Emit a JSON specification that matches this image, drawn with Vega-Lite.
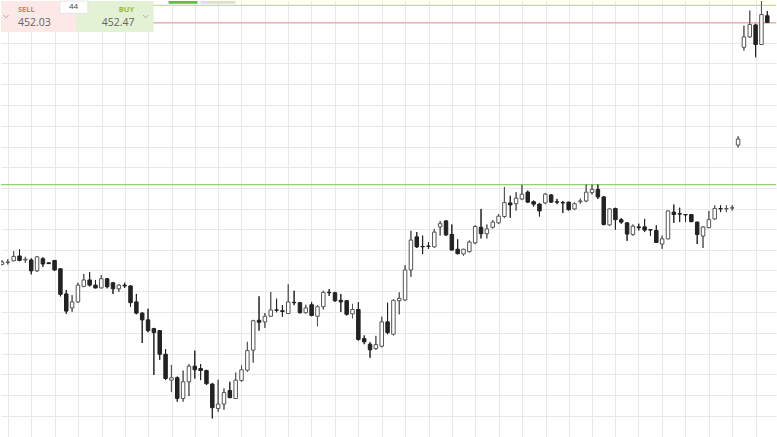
{
  "$schema": "https://vega.github.io/schema/vega-lite/v6.json",
  "width": 777,
  "height": 437,
  "autosize": {"type": "fit", "contains": "padding"},
  "padding": 0,
  "background": "#ffffff",
  "config": {
    "view": {"stroke": null},
    "axis": {"gridColor": "#e8e8e8", "gridWidth": 1, "labels": false, "ticks": false, "domain": false, "minExtent": 0, "maxExtent": 0}
  },
  "datasets": {
    "candles": [
      {"t":0,"o":445.98,"h":446.08,"l":445.96,"c":446.04},
      {"t":1,"o":446.03,"h":446.11,"l":445.98,"c":446.04},
      {"t":2,"o":446.07,"h":446.31,"l":446.06,"c":446.18},
      {"t":3,"o":446.19,"h":446.36,"l":446.06,"c":446.08},
      {"t":4,"o":446.09,"h":446.17,"l":446.02,"c":446.11},
      {"t":5,"o":446.09,"h":446.13,"l":445.73,"c":445.82},
      {"t":6,"o":445.82,"h":446.19,"l":445.79,"c":446.17},
      {"t":7,"o":446.12,"h":446.16,"l":445.92,"c":445.99},
      {"t":8,"o":446.02,"h":446.03,"l":445.99,"c":446.00},
      {"t":9,"o":446.08,"h":446.09,"l":445.82,"c":445.84},
      {"t":10,"o":445.87,"h":445.88,"l":445.18,"c":445.23},
      {"t":11,"o":445.24,"h":445.34,"l":444.74,"c":444.81},
      {"t":12,"o":444.89,"h":445.21,"l":444.79,"c":445.04},
      {"t":13,"o":445.04,"h":445.52,"l":445.02,"c":445.46},
      {"t":14,"o":445.43,"h":445.74,"l":445.41,"c":445.59},
      {"t":15,"o":445.59,"h":445.79,"l":445.43,"c":445.46},
      {"t":16,"o":445.46,"h":445.59,"l":445.38,"c":445.39},
      {"t":17,"o":445.39,"h":445.71,"l":445.38,"c":445.62},
      {"t":18,"o":445.62,"h":445.64,"l":445.38,"c":445.42},
      {"t":19,"o":445.52,"h":445.54,"l":445.24,"c":445.37},
      {"t":20,"o":445.37,"h":445.48,"l":445.29,"c":445.46},
      {"t":21,"o":445.46,"h":445.52,"l":445.39,"c":445.44},
      {"t":22,"o":445.44,"h":445.46,"l":444.92,"c":445.02},
      {"t":23,"o":445.04,"h":445.24,"l":444.73,"c":444.76},
      {"t":24,"o":444.76,"h":444.78,"l":444.01,"c":444.59},
      {"t":25,"o":444.59,"h":444.87,"l":444.28,"c":444.32},
      {"t":26,"o":444.37,"h":444.39,"l":443.21,"c":444.27},
      {"t":27,"o":444.32,"h":444.33,"l":443.59,"c":443.73},
      {"t":28,"o":443.73,"h":443.86,"l":443.08,"c":443.12},
      {"t":29,"o":443.08,"h":443.46,"l":442.78,"c":443.14},
      {"t":30,"o":443.14,"h":443.17,"l":442.54,"c":442.62},
      {"t":31,"o":442.62,"h":443.32,"l":442.54,"c":443.04},
      {"t":32,"o":443.04,"h":443.48,"l":442.68,"c":443.43},
      {"t":33,"o":443.43,"h":443.82,"l":443.12,"c":443.34},
      {"t":34,"o":443.37,"h":443.48,"l":443.08,"c":443.32},
      {"t":35,"o":443.32,"h":443.34,"l":442.96,"c":442.99},
      {"t":36,"o":442.98,"h":443.01,"l":442.12,"c":442.39},
      {"t":37,"o":442.37,"h":443.09,"l":442.29,"c":442.48},
      {"t":38,"o":442.48,"h":442.87,"l":442.34,"c":442.77},
      {"t":39,"o":442.82,"h":443.04,"l":442.63,"c":442.64},
      {"t":40,"o":442.62,"h":443.27,"l":442.61,"c":443.08},
      {"t":41,"o":443.07,"h":443.46,"l":443.04,"c":443.34},
      {"t":42,"o":443.33,"h":444.04,"l":443.29,"c":443.82},
      {"t":43,"o":443.83,"h":444.59,"l":443.52,"c":444.57},
      {"t":44,"o":444.58,"h":445.18,"l":444.32,"c":444.53},
      {"t":45,"o":444.54,"h":444.76,"l":444.39,"c":444.68},
      {"t":46,"o":444.68,"h":445.29,"l":444.67,"c":444.84},
      {"t":47,"o":444.84,"h":445.12,"l":444.78,"c":444.83},
      {"t":48,"o":444.82,"h":444.96,"l":444.67,"c":444.80},
      {"t":49,"o":444.75,"h":445.48,"l":444.74,"c":445.04},
      {"t":50,"o":445.03,"h":445.32,"l":444.96,"c":445.02},
      {"t":51,"o":445.02,"h":445.04,"l":444.75,"c":444.77},
      {"t":52,"o":444.77,"h":444.97,"l":444.75,"c":444.89},
      {"t":53,"o":444.97,"h":445.04,"l":444.68,"c":444.70},
      {"t":54,"o":444.68,"h":444.96,"l":444.43,"c":444.92},
      {"t":55,"o":444.92,"h":445.32,"l":444.85,"c":445.28},
      {"t":56,"o":445.28,"h":445.36,"l":445.19,"c":445.27},
      {"t":57,"o":445.27,"h":445.29,"l":445.04,"c":445.07},
      {"t":58,"o":445.08,"h":445.24,"l":444.79,"c":445.04},
      {"t":59,"o":445.07,"h":445.08,"l":444.70,"c":444.73},
      {"t":60,"o":444.74,"h":444.99,"l":444.63,"c":444.85},
      {"t":61,"o":444.85,"h":445.03,"l":444.07,"c":444.10},
      {"t":62,"o":444.12,"h":444.20,"l":443.98,"c":444.04},
      {"t":63,"o":443.98,"h":444.03,"l":443.64,"c":443.84},
      {"t":64,"o":443.87,"h":444.19,"l":443.84,"c":443.97},
      {"t":65,"o":443.93,"h":444.67,"l":443.90,"c":444.54},
      {"t":66,"o":444.54,"h":445.02,"l":444.23,"c":444.27},
      {"t":67,"o":444.23,"h":445.10,"l":444.20,"c":445.08},
      {"t":68,"o":445.07,"h":445.28,"l":444.73,"c":445.13},
      {"t":69,"o":445.09,"h":445.96,"l":445.07,"c":445.84},
      {"t":70,"o":445.84,"h":446.82,"l":445.67,"c":446.59},
      {"t":71,"o":446.67,"h":446.79,"l":446.39,"c":446.42},
      {"t":72,"o":446.43,"h":446.70,"l":446.24,"c":446.42},
      {"t":73,"o":446.44,"h":446.54,"l":446.37,"c":446.43},
      {"t":74,"o":446.42,"h":446.87,"l":446.40,"c":446.79},
      {"t":75,"o":446.92,"h":447.07,"l":446.70,"c":447.00},
      {"t":76,"o":447.07,"h":447.08,"l":446.69,"c":446.72},
      {"t":77,"o":446.73,"h":446.98,"l":446.33,"c":446.34},
      {"t":78,"o":446.36,"h":446.61,"l":446.23,"c":446.25},
      {"t":79,"o":446.24,"h":446.37,"l":446.20,"c":446.36},
      {"t":80,"o":446.30,"h":446.58,"l":446.28,"c":446.54},
      {"t":81,"o":446.52,"h":446.96,"l":446.49,"c":446.93},
      {"t":82,"o":446.91,"h":447.37,"l":446.63,"c":446.75},
      {"t":83,"o":446.75,"h":446.98,"l":446.63,"c":446.87},
      {"t":84,"o":446.91,"h":447.09,"l":446.88,"c":447.04},
      {"t":85,"o":447.02,"h":447.24,"l":446.99,"c":447.19},
      {"t":86,"o":447.18,"h":447.92,"l":447.14,"c":447.53},
      {"t":87,"o":447.52,"h":447.70,"l":447.15,"c":447.47},
      {"t":88,"o":447.50,"h":447.79,"l":447.33,"c":447.64},
      {"t":89,"o":447.62,"h":447.98,"l":447.59,"c":447.74},
      {"t":90,"o":447.79,"h":447.83,"l":447.52,"c":447.54},
      {"t":91,"o":447.55,"h":447.58,"l":447.43,"c":447.49},
      {"t":92,"o":447.49,"h":447.52,"l":447.18,"c":447.32},
      {"t":93,"o":447.52,"h":447.77,"l":447.49,"c":447.74},
      {"t":94,"o":447.72,"h":447.74,"l":447.52,"c":447.54},
      {"t":95,"o":447.55,"h":447.62,"l":447.49,"c":447.54},
      {"t":96,"o":447.53,"h":447.57,"l":447.27,"c":447.52},
      {"t":97,"o":447.54,"h":447.55,"l":447.33,"c":447.35},
      {"t":98,"o":447.37,"h":447.54,"l":447.34,"c":447.50},
      {"t":99,"o":447.55,"h":447.63,"l":447.50,"c":447.57},
      {"t":100,"o":447.57,"h":447.99,"l":447.54,"c":447.79},
      {"t":101,"o":447.78,"h":447.99,"l":447.73,"c":447.86},
      {"t":102,"o":447.86,"h":447.99,"l":447.62,"c":447.67},
      {"t":103,"o":447.67,"h":447.69,"l":446.96,"c":446.98},
      {"t":104,"o":446.97,"h":447.39,"l":446.94,"c":447.37},
      {"t":105,"o":447.38,"h":447.40,"l":446.85,"c":447.10},
      {"t":106,"o":447.10,"h":447.14,"l":447.00,"c":447.04},
      {"t":107,"o":447.02,"h":447.04,"l":446.57,"c":446.74},
      {"t":108,"o":446.73,"h":446.98,"l":446.70,"c":446.94},
      {"t":109,"o":446.92,"h":447.00,"l":446.83,"c":446.90},
      {"t":110,"o":446.92,"h":447.12,"l":446.79,"c":446.84},
      {"t":111,"o":446.85,"h":446.86,"l":446.70,"c":446.84},
      {"t":112,"o":446.83,"h":446.96,"l":446.52,"c":446.53},
      {"t":113,"o":446.49,"h":446.70,"l":446.37,"c":446.62},
      {"t":114,"o":446.62,"h":447.33,"l":446.61,"c":447.32},
      {"t":115,"o":447.29,"h":447.48,"l":447.02,"c":447.23},
      {"t":116,"o":447.25,"h":447.40,"l":447.04,"c":447.24},
      {"t":117,"o":447.23,"h":447.24,"l":447.04,"c":447.22},
      {"t":118,"o":447.23,"h":447.24,"l":447.04,"c":447.05},
      {"t":119,"o":447.04,"h":447.05,"l":446.49,"c":446.73},
      {"t":120,"o":446.69,"h":446.94,"l":446.39,"c":446.92},
      {"t":121,"o":446.90,"h":447.32,"l":446.89,"c":447.10},
      {"t":122,"o":447.12,"h":447.46,"l":447.10,"c":447.38},
      {"t":123,"o":447.38,"h":447.46,"l":447.29,"c":447.37},
      {"t":124,"o":447.37,"h":447.46,"l":447.29,"c":447.38},
      {"t":125,"o":447.39,"h":447.46,"l":447.33,"c":447.40},
      {"t":126,"o":448.97,"h":449.19,"l":448.91,"c":449.12},
      {"t":127,"o":451.42,"h":451.96,"l":451.34,"c":451.68},
      {"t":128,"o":451.68,"h":452.34,"l":451.66,"c":451.99},
      {"t":129,"o":451.98,"h":452.01,"l":451.17,"c":451.49},
      {"t":130,"o":451.49,"h":452.63,"l":451.48,"c":452.24},
      {"t":131,"o":452.21,"h":452.33,"l":452.03,"c":452.04}
    ],
    "levels": [
      {"name": "resistance", "price": 447.98},
      {"name": "ask", "price": 452.47},
      {"name": "bid", "price": 452.03}
    ],
    "quote": [
      {"side": "SELL", "price": 452.03},
      {"side": "BUY", "price": 452.47}
    ]
  },
  "layer": [
    {
      "data": {"name": "candles"},
      "mark": {"type": "rule", "strokeWidth": 1, "clip": true},
      "encoding": {
        "x": {"field": "t", "type": "quantitative",
          "scale": {"domain": [-0.1707, 132.49], "nice": false, "zero": false, "padding": 0},
          "axis": {"title": null, "grid": true, "labels": false, "ticks": false, "domain": false, "tickCount": 200, "values": [1.024,4.951,9.049,12.976,17.073,21.0,24.927,29.025,32.952,37.049,40.976,45.074,49.0,52.927,57.025,60.952,65.049,68.976,73.074,77.001,80.928,85.025,88.952,93.05,96.976,101.074,105.001,108.928,113.025,116.952,121.05,124.977,129.074]}},
        "y": {"field": "l", "type": "quantitative",
          "scale": {"domain": [441.655, 452.58], "nice": false, "zero": false, "padding": 0},
          "axis": {"title": null, "grid": true, "labels": false, "ticks": false, "domain": false, "tickCount": 200, "values": [442.18,442.705,443.23,443.73,444.255,444.78,445.305,445.83,446.33,446.855,447.38,447.905,448.43,448.93,449.455,449.98,450.505,451.03,451.53,452.055]}},
        "y2": {"field": "h"},
        "color": {"condition": {"test": "datum.c >= datum.o", "value": "#555555"}, "value": "#222222"}
      }
    },
    {
      "data": {"name": "levels"},
      "mark": {"type": "rule", "strokeWidth": 1.3},
      "encoding": {
        "y": {"field": "price", "type": "quantitative"},
        "color": {"field": "name", "type": "nominal", "legend": null,
          "scale": {"domain": ["resistance", "ask", "bid"], "range": ["#95d36f", "#c2df96", "#e6a3a3"]}}
      }
    },
    {
      "data": {"name": "candles"},
      "mark": {"type": "rule", "strokeWidth": 1, "clip": true},
      "encoding": {
        "x": {"field": "t", "type": "quantitative"},
        "y": {"field": "l", "type": "quantitative"},
        "y2": {"field": "h"},
        "color": {"condition": {"test": "datum.c >= datum.o", "value": "#555555"}, "value": "#222222"}
      }
    },
    {
      "data": {"name": "candles"},
      "mark": {"type": "bar", "width": 3.5, "strokeWidth": 1, "clip": true},
      "encoding": {
        "x": {"field": "t", "type": "quantitative"},
        "y": {"field": "o", "type": "quantitative"},
        "y2": {"field": "c"},
        "fill": {"condition": {"test": "datum.c >= datum.o", "value": "#ffffff"}, "value": "#222222"},
        "stroke": {"condition": {"test": "datum.c >= datum.o", "value": "#555555"}, "value": "#222222"}
      }
    },
    {
      "data": {"name": "quote"},
      "transform": [{"filter": "datum.side === 'SELL'"}],
      "mark": {"type": "rect", "fill": "#fbe8e7"},
      "encoding": {
        "x": {"datum": -0.1707, "type": "quantitative"},
        "x2": {"datum": 12.63},
        "y": {"datum": 452.58, "type": "quantitative"},
        "y2": {"datum": 451.805}
      }
    },
    {
      "data": {"name": "quote"},
      "transform": [{"filter": "datum.side === 'BUY'"}],
      "mark": {"type": "rect", "fill": "#e3f1d5"},
      "encoding": {
        "x": {"datum": 12.63, "type": "quantitative"},
        "x2": {"datum": 25.95},
        "y": {"datum": 452.58, "type": "quantitative"},
        "y2": {"datum": 451.805}
      }
    },
    {
      "data": {"name": "quote"},
      "transform": [{"filter": "datum.side === 'SELL'"}],
      "mark": {"type": "rect", "fill": "#ffffff", "stroke": "#e2e2e2", "strokeWidth": 0.8},
      "encoding": {
        "x": {"datum": 9.9, "type": "quantitative"},
        "x2": {"datum": 14.68},
        "y": {"datum": 452.58, "type": "quantitative"},
        "y2": {"datum": 452.27}
      }
    },
    {
      "data": {"name": "quote"},
      "transform": [{"filter": "datum.side === 'SELL'"}],
      "mark": {"type": "rect", "fill": "#62c134"},
      "encoding": {
        "x": {"datum": 28.51, "type": "quantitative"},
        "x2": {"datum": 33.46},
        "y": {"datum": 452.58, "type": "quantitative"},
        "y2": {"datum": 452.51}
      }
    },
    {
      "data": {"name": "quote"},
      "transform": [{"filter": "datum.side === 'SELL'"}],
      "mark": {"type": "rect", "fill": "#dddddd"},
      "encoding": {
        "x": {"datum": 33.98, "type": "quantitative"},
        "x2": {"datum": 39.95},
        "y": {"datum": 452.58, "type": "quantitative"},
        "y2": {"datum": 452.51}
      }
    },
    {
      "data": {"name": "quote"},
      "transform": [{"filter": "datum.side === 'SELL'"}],
      "mark": {"type": "text", "text": "44", "font": "Open Sans", "fontSize": 8, "color": "#444444", "align": "center", "baseline": "middle"},
      "encoding": {
        "x": {"datum": 12.25, "type": "quantitative"},
        "y": {"datum": 452.42, "type": "quantitative"}
      }
    },
    {
      "data": {"name": "quote"},
      "transform": [{"filter": "datum.side === 'SELL'"}],
      "mark": {"type": "text", "font": "Open Sans", "fontSize": 7.5, "fontWeight": "bold", "color": "#e4716a", "align": "left", "baseline": "middle"},
      "encoding": {
        "x": {"datum": 2.73, "type": "quantitative"},
        "y": {"datum": 452.355, "type": "quantitative"},
        "text": {"field": "side"}
      }
    },
    {
      "data": {"name": "quote"},
      "transform": [{"filter": "datum.side === 'SELL'"}],
      "mark": {"type": "text", "font": "Open Sans", "fontSize": 10.5, "color": "#666666", "align": "left", "baseline": "middle"},
      "encoding": {
        "x": {"datum": 2.73, "type": "quantitative"},
        "y": {"datum": 452.03, "type": "quantitative"},
        "text": {"field": "price", "format": ".2f"}
      }
    },
    {
      "data": {"name": "quote"},
      "transform": [{"filter": "datum.side === 'BUY'"}],
      "mark": {"type": "text", "font": "Open Sans", "fontSize": 7.5, "fontWeight": "bold", "color": "#9cba36", "align": "right", "baseline": "middle"},
      "encoding": {
        "x": {"datum": 22.62, "type": "quantitative"},
        "y": {"datum": 452.355, "type": "quantitative"},
        "text": {"field": "side"}
      }
    },
    {
      "data": {"name": "quote"},
      "transform": [{"filter": "datum.side === 'BUY'"}],
      "mark": {"type": "text", "font": "Open Sans", "fontSize": 10.5, "color": "#666666", "align": "right", "baseline": "middle"},
      "encoding": {
        "x": {"datum": 22.7, "type": "quantitative"},
        "y": {"datum": 452.03, "type": "quantitative"},
        "text": {"field": "price", "format": ".2f"}
      }
    },
    {
      "data": {"name": "quote"},
      "transform": [{"filter": "datum.side === 'SELL'"}],
      "mark": {"type": "point", "shape": "M-1,-0.6L0,0.6L1,-0.6", "filled": false, "stroke": "#999999", "strokeWidth": 1, "size": 25},
      "encoding": {
        "x": {"datum": 0.68, "type": "quantitative"},
        "y": {"datum": 452.19, "type": "quantitative"}
      }
    },
    {
      "data": {"name": "quote"},
      "transform": [{"filter": "datum.side === 'BUY'"}],
      "mark": {"type": "point", "shape": "M-1,-0.6L0,0.6L1,-0.6", "filled": false, "stroke": "#999999", "strokeWidth": 1, "size": 25},
      "encoding": {
        "x": {"datum": 24.59, "type": "quantitative"},
        "y": {"datum": 452.19, "type": "quantitative"}
      }
    }
  ]
}
